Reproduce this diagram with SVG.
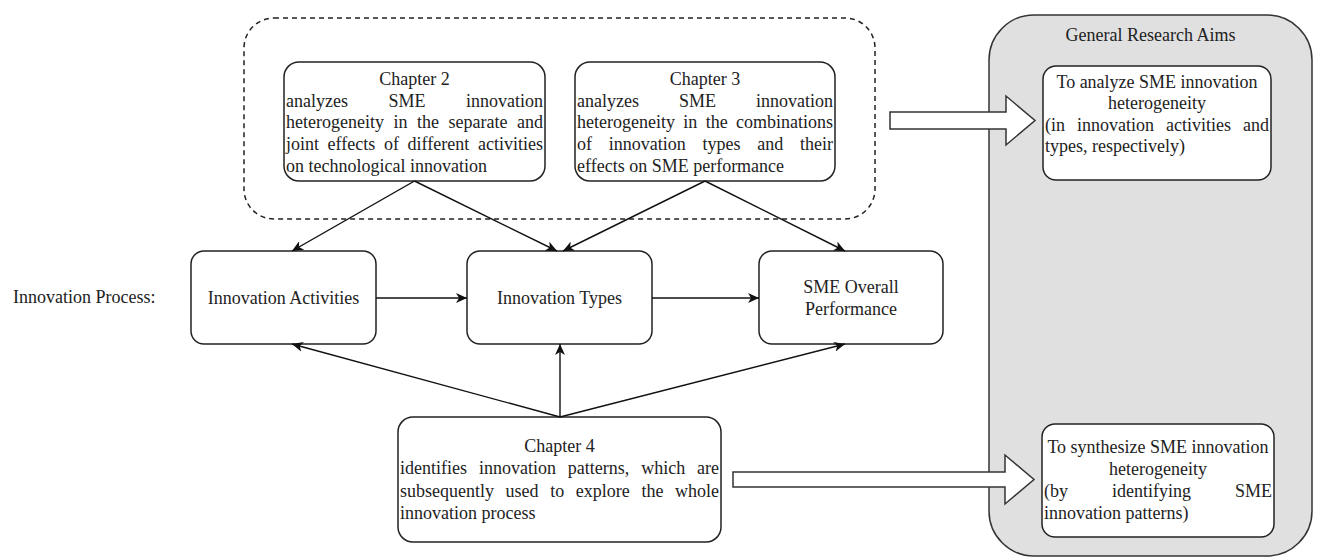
<svg xmlns="http://www.w3.org/2000/svg" width="1317" height="559" viewBox="0 0 1317 559">
<style>
text{font-family:"Liberation Serif","Times New Roman",serif;font-size:18px;fill:#222}
.box{fill:#fff;stroke:#222;stroke-width:1.5}
.c{text-anchor:middle}
.e{text-anchor:end}
.conn{stroke:#111;stroke-width:1.4;fill:none;marker-end:url(#ah)}
.big{fill:#fff;stroke:#333;stroke-width:1.5}
</style>
<defs>
<marker id="ah" markerUnits="userSpaceOnUse" markerWidth="12" markerHeight="10" refX="11" refY="5" orient="auto">
<path d="M0,0 L11,5 L0,10 L3,5 Z" fill="#111"/>
</marker>
</defs>
<rect width="1317" height="559" fill="#fff"/>

<g id="aims-container">
<rect x="989" y="15" width="323" height="541" rx="45" ry="45" fill="#e0e0e0" stroke="#333" stroke-width="1.5"/>
<text class="c" x="1150.5" y="41">General Research Aims</text>
</g>

<g id="chapters-group">
<rect x="244" y="18" width="631" height="201" rx="30" ry="30" fill="none" stroke="#222" stroke-width="1.5" stroke-dasharray="5 4"/>
</g>

<g id="chapter2">
<rect class="box" x="284" y="62" width="261" height="119" rx="15" ry="15"/>
<text class="c" x="414.5" y="85">Chapter 2</text>
<text x="286" y="107">analyzes</text><text x="388.5" y="107">SME</text><text class="e" x="543" y="107">innovation</text>
<text x="286" y="128">heterogeneity</text><text x="393.5" y="128">in</text><text x="417" y="128">the</text><text x="448.5" y="128">separate</text><text class="e" x="543" y="128">and</text>
<text x="286" y="150">joint</text><text x="327.5" y="150">effects</text><text x="384" y="150">of</text><text x="407.5" y="150">different</text><text class="e" x="543" y="150">activities</text>
<text x="286" y="172">on technological innovation</text>
</g>

<g id="chapter3">
<rect class="box" x="575" y="62" width="260" height="119" rx="15" ry="15"/>
<text class="c" x="705" y="85">Chapter 3</text>
<text x="577" y="107">analyzes</text><text x="679" y="107">SME</text><text class="e" x="833" y="107">innovation</text>
<text x="577" y="128">heterogeneity</text><text x="683.3" y="128">in</text><text x="705.7" y="128">the</text><text class="e" x="833" y="128">combinations</text>
<text x="577" y="150">of</text><text x="608.7" y="150">innovation</text><text x="702.5" y="150">types</text><text x="757.2" y="150">and</text><text class="e" x="833" y="150">their</text>
<text x="577" y="172">effects on SME performance</text>
</g>

<g id="innovation-process-label">
<text x="13" y="303">Innovation Process:</text>
</g>

<g id="innovation-activities">
<rect class="box" x="191" y="251" width="185" height="93" rx="13" ry="13"/>
<text class="c" x="283.5" y="304">Innovation Activities</text>
</g>

<g id="innovation-types">
<rect class="box" x="467" y="251" width="185" height="93" rx="13" ry="13"/>
<text class="c" x="559.5" y="304">Innovation Types</text>
</g>

<g id="sme-performance">
<rect class="box" x="759" y="251" width="184" height="93" rx="13" ry="13"/>
<text class="c" x="851" y="293">SME Overall</text>
<text class="c" x="851" y="315">Performance</text>
</g>

<g id="chapter4">
<rect class="box" x="398" y="417" width="323" height="125" rx="15" ry="15"/>
<text class="c" x="559.5" y="452">Chapter 4</text>
<text x="400" y="474">identifies</text><text x="478.9" y="474">innovation</text><text x="567.8" y="474">patterns,</text><text x="641.2" y="474">which</text><text class="e" x="719" y="474">are</text>
<text x="400" y="497">subsequently</text><text x="505.6" y="497">used</text><text x="550.2" y="497">to</text><text x="575.8" y="497">explore</text><text x="641.4" y="497">the</text><text class="e" x="719" y="497">whole</text>
<text x="400" y="519">innovation process</text>
</g>

<g id="aim1">
<rect class="box" x="1043" y="66" width="228" height="114" rx="13" ry="13"/>
<text class="c" x="1157" y="88">To analyze SME innovation</text>
<text class="c" x="1157" y="109">heterogeneity</text>
<text x="1045" y="131">(in</text><text x="1077" y="131">innovation</text><text x="1166" y="131">activities</text><text class="e" x="1269" y="131">and</text>
<text x="1045" y="152">types, respectively)</text>
</g>

<g id="aim2">
<rect class="box" x="1042" y="424" width="232" height="113" rx="13" ry="13"/>
<text class="c" x="1158" y="453">To synthesize SME innovation</text>
<text class="c" x="1158" y="475">heterogeneity</text>
<text x="1044" y="497">(by</text><text x="1112" y="497">identifying</text><text class="e" x="1272" y="497">SME</text>
<text x="1044" y="519">innovation patterns)</text>
</g>

<g id="connectors">
<line class="conn" x1="414.5" y1="181" x2="292" y2="251"/>
<line class="conn" x1="414.5" y1="181" x2="557" y2="251"/>
<line class="conn" x1="705" y1="181" x2="563" y2="251"/>
<line class="conn" x1="705" y1="181" x2="845" y2="251"/>
<line class="conn" x1="376" y1="298" x2="467" y2="298"/>
<line class="conn" x1="652" y1="298" x2="759" y2="298"/>
<line class="conn" x1="560" y1="417" x2="292" y2="344"/>
<line class="conn" x1="560" y1="417" x2="560" y2="344"/>
<line class="conn" x1="560" y1="417" x2="845" y2="344"/>
<path class="big" d="M890,112 L1006,112 L1006,96 L1035,120.5 L1006,145 L1006,129 L890,129 Z"/>
<path class="big" d="M733,472 L1005,472 L1005,455 L1034,479.5 L1005,504 L1005,487 L733,487 Z"/>
</g>
</svg>
